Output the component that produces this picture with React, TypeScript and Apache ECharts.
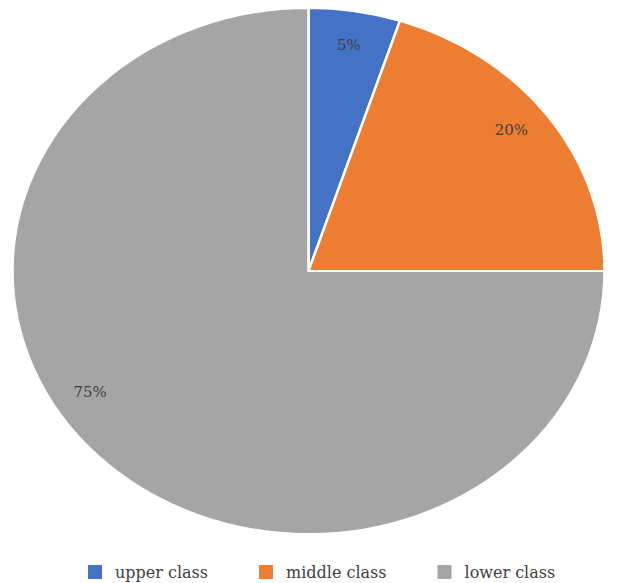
import React, { useEffect, useRef } from "react";
import * as echarts from "echarts";

const categories = ["upper class", "middle class", "lower class"];
const values = [5, 20, 75];
const colors = ["#4472C4", "#ED7D31", "#A5A5A5"];

const CX = 308.5;
const CY = 271;
const RX = 296;
const RY = 263;
const LABEL_F = 0.87;
const LABEL_SHIFT_DEG = [0, -2, 13];
const FONT = "'DejaVu Serif', 'Liberation Serif', serif";

export default function App() {
  const ref = useRef<HTMLDivElement>(null);
  useEffect(() => {
    if (!ref.current) return;
    const chart = echarts.init(ref.current, undefined, { renderer: "svg" });
    const total = values.reduce((a, b) => a + b, 0);
    const cum: number[] = [];
    let acc = 0;
    values.forEach((v) => {
      cum.push(acc);
      acc += v;
    });
    const sy = RY / RX;
    const series = categories.map((name, i) => ({
      type: "custom",
      name,
      coordinateSystem: "none",
      data: [values[i]],
      itemStyle: { color: colors[i] },
      renderItem: (params: any, api: any) => {
        const v = api.value(0);
        const sa = -Math.PI / 2 + (cum[i] / total) * Math.PI * 2;
        const ea = -Math.PI / 2 + ((cum[i] + v) / total) * Math.PI * 2;
        const mid = (sa + ea) / 2 + (LABEL_SHIFT_DEG[i] * Math.PI) / 180;
        return {
          type: "group",
          children: [
            {
              type: "group",
              x: CX,
              y: CY,
              scaleY: sy,
              children: [
                {
                  type: "sector",
                  shape: { cx: 0, cy: 0, r: RX, r0: 0, startAngle: sa, endAngle: ea, clockwise: true },
                  style: { fill: colors[i], stroke: "#ffffff", lineWidth: 2.5 },
                },
              ],
            },
            {
              type: "text",
              x: CX + RX * LABEL_F * Math.cos(mid),
              y: CY + RX * LABEL_F * Math.sin(mid) * sy,
              style: {
                text: Math.round((v / total) * 100) + "%",
                fill: "#404040",
                font: "15px " + FONT,
                align: "center",
                verticalAlign: "middle",
              },
            },
          ],
        };
      },
    }));
    chart.setOption({
      animation: false,
      backgroundColor: "#ffffff",
      legend: {
        data: categories,
        top: 559,
        left: 83,
        icon: "rect",
        itemWidth: 14,
        itemHeight: 14,
        itemGap: 51,
        textStyle: { fontFamily: FONT, fontSize: 16, color: "#404040", padding: [0, 0, 0, 8] },
      },
      series,
    } as any);
    return () => chart.dispose();
  }, []);
  return (
    <div
      ref={ref}
      style={{ position: "fixed", left: 0, top: 0, width: 625, height: 583 }}
    />
  );
}
